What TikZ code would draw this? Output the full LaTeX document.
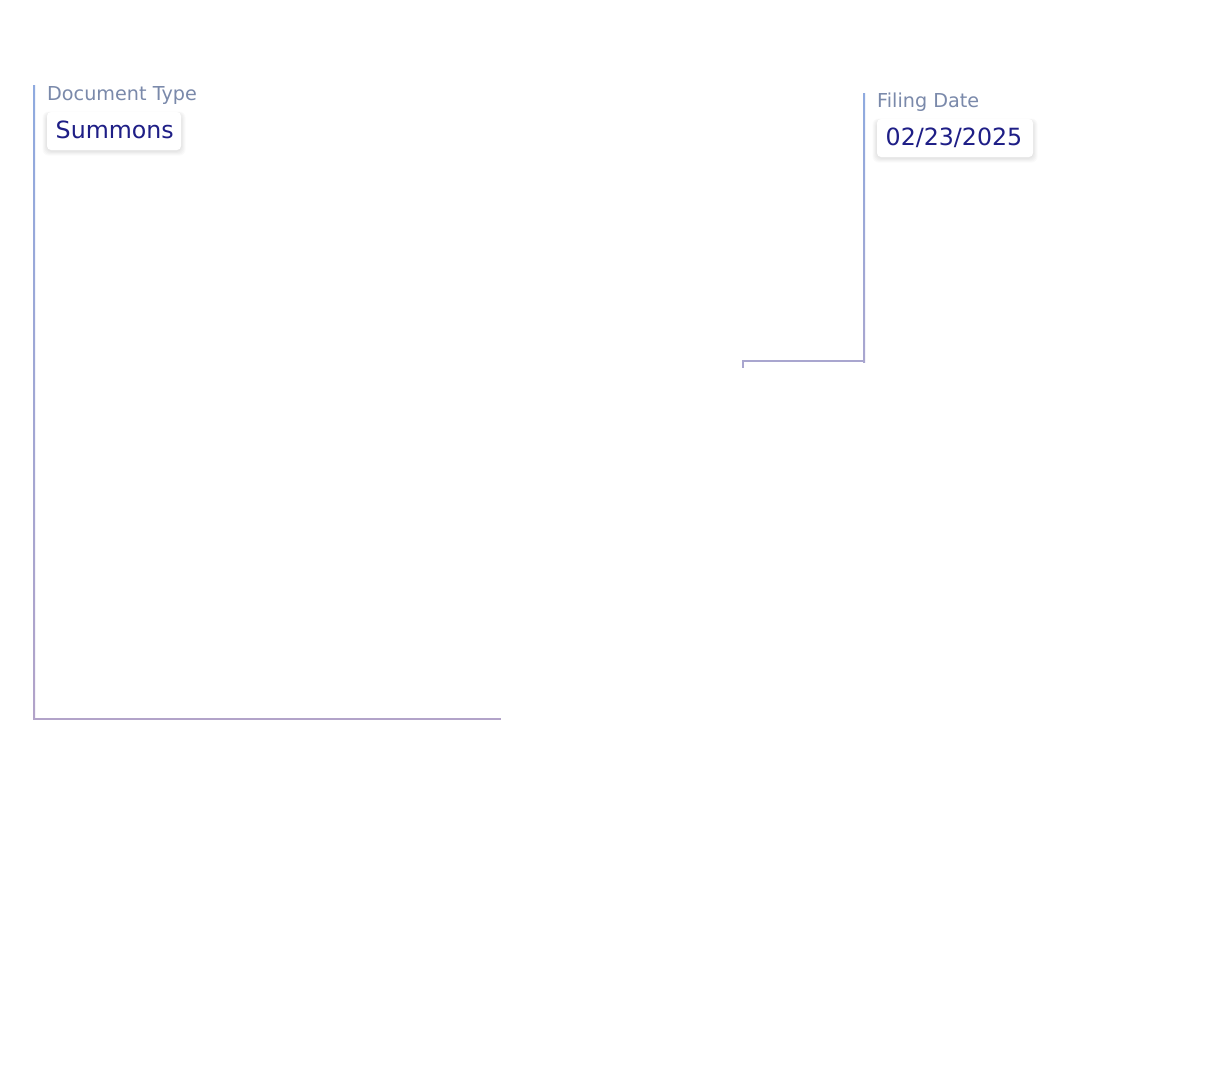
\documentclass[tikz,border=0pt]{standalone}
\usepackage{fontspec}
\setmainfont{DejaVu Sans}
\definecolor{lblcol}{HTML}{7A89AA}
\definecolor{valcol}{HTML}{1E1E86}
\definecolor{lineblue}{HTML}{8FAADF}
\definecolor{linepurple}{HTML}{B2A3C9}
\definecolor{linemid}{HTML}{A9A6CF}
\tikzset{
  lbl/.style={anchor=base west, inner sep=0pt, text=lblcol, font=\fontsize{19.2}{22}\selectfont},
  val/.style={anchor=base west, inner sep=0pt, text=valcol, font=\fontsize{23.7}{28}\selectfont},
  shadowlayer/.style={fill=black, fill opacity=0.018, rounded corners=6pt},
  boxface/.style={fill=white, rounded corners=4pt},
}
\newcommand{\mysoftbox}[4]{%
  \foreach \k in {1,...,5}{%
    \fill[shadowlayer] (#1-\k*0.9,#2-\k*0.5+2) rectangle (#3+\k*0.9,#4+\k*0.9+1);
  }%
  \fill[boxface] (#1,#2) rectangle (#3,#4);%
}
\begin{document}
\begin{tikzpicture}[x=1pt,y=-1pt]
\useasboundingbox (0,0) rectangle (1214,1072);
\fill[white] (0,0) rectangle (1214,1072);
% left bracket
\shade[top color=lineblue, bottom color=linepurple] (33,85) rectangle (35,719);
\fill[linepurple] (33,717.5) rectangle (501,719.5);
% right bracket
\shade[top color=lineblue, bottom color=linemid] (863,93) rectangle (865,362);
\fill[linemid] (742,360) rectangle (865,362);
\fill[linemid] (742,360) rectangle (744,368);
% document type
\node[lbl] (dtl) at (47,100) {Document Type};
\mysoftbox{47}{112}{181}{150}
\node[val] (dtv) at (55.5,138.5) {Summons};
% filing date
\node[lbl] (fdl) at (877,107) {Filing Date};
\mysoftbox{877}{119}{1033}{157}
\node[val] (fdv) at (885.5,145.5) {02/23/2025};
\end{tikzpicture}
\end{document}
